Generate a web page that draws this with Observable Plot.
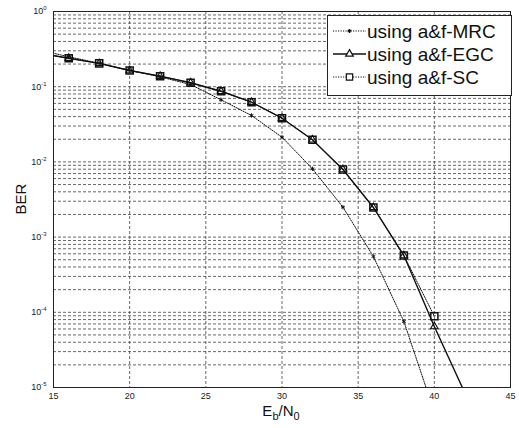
<!DOCTYPE html>
<html><head><meta charset="utf-8">
<script src="https://cdn.jsdelivr.net/npm/d3@7"></script>
<script src="https://cdn.jsdelivr.net/npm/@observablehq/plot@0.6"></script>
<style>body{margin:0;background:#fff} #chart{width:519px;height:428px}</style>
</head><body><div id="chart"></div>
<script>
const ebn0 = [14,16,18,20,22,24,26,28,30,32,34,36,38,40,42];
const berMRC = [0.31,0.25,0.205,0.165,0.135,0.107,0.0669,0.0414,0.0213,0.00809,0.0025,5.52e-4,7.55e-5,4.7e-6];
const berEGC = [0.28,0.239,0.204,0.164,0.138,0.113,0.087,0.0622,0.0381,0.0197,0.00792,0.00248,5.69e-4,6.46e-5,8.5e-6];
const berSC  = [0.28,0.239,0.204,0.164,0.138,0.113,0.087,0.0622,0.0381,0.0197,0.00792,0.00248,5.69e-4,8.87e-5];
const seriesNames = ["using a&f-MRC","using a&f-EGC","using a&f-SC"];
const xTicks = [15,20,25,30,35,40,45];
const xGrid = [20,25,30,35,40];
const yTicks = [1e-5,1e-4,1e-3,1e-2,1e-1,1];
const yMinorMult = [1,2,3,4,5,6,7,8,9];

const yGrid = [];
yTicks.slice(0,-1).forEach(d => yMinorMult.forEach(k => yGrid.push(k*d)));

const rows = (vals, s) => vals.map((v,i) => ({x: ebn0[i], y: v, s}));
const mrc = rows(berMRC, seriesNames[0]);
const egc = rows(berEGC, seriesNames[1]);
const sc  = rows(berSC,  seriesNames[2]);
const vis = r => r.x >= 15;

const ink = "#111";
const gridStyle = {stroke:"#444", strokeOpacity:0.9, strokeDasharray:"3,2", strokeWidth:0.9};

const svgEl = Plot.plot({
  width:519, height:428, marginLeft:53, marginRight:9, marginTop:11, marginBottom:41,
  style:{fontFamily:"'Liberation Sans', Arial, sans-serif", fontSize:"9px", background:"#fff", color:"#222"},
  x:{domain:[15,45]},
  y:{type:"log", domain:[1e-5,1]},
  marks:[
    Plot.gridY({ticks: yGrid, ...gridStyle}),
    Plot.gridX({ticks: xGrid, ...gridStyle}),
    Plot.line(mrc, {x:"x", y:"y", stroke:ink, strokeWidth:1, strokeDasharray:"1.2,1.3", clip:true}),
    Plot.line(egc, {x:"x", y:"y", stroke:ink, strokeWidth:1.4, clip:true}),
    Plot.line(sc,  {x:"x", y:"y", stroke:ink, strokeWidth:1, strokeDasharray:"1.2,1.3", clip:true}),
    Plot.dot(mrc.filter(vis), {x:"x", y:"y", symbol:"asterisk", r:2, stroke:ink, strokeWidth:1, clip:true}),
    Plot.dot(egc.filter(vis), {x:"x", y:"y", symbol:"triangle", r:2.8, stroke:ink, fill:"none", strokeWidth:1.1, clip:true}),
    Plot.dot(sc.filter(vis),  {x:"x", y:"y", symbol:"square", r:4, stroke:ink, fill:"none", strokeWidth:1.5, clip:true}),
    Plot.frame({stroke:"#222", strokeWidth:1}),
    Plot.axisX({ticks:xTicks, tickSize:0, tickPadding:5, label:null}),
    Plot.axisY({ticks:yTicks, tickSize:0, tickPadding:7, tickFormat: d => "10^" + Math.round(Math.log10(d)), label:null})
  ]
});
document.getElementById("chart").appendChild(svgEl);
const svg = d3.select(svgEl);

// superscript tick labels
svg.selectAll('g[aria-label="y-axis tick label"] text').each(function(){
  const t = this.textContent;
  const e = t.split("^")[1];
  const sel = d3.select(this);
  sel.text("10");
  sel.append("tspan").attr("dy","-0.65em").attr("font-size","6px").text(e);
});

const font = "'Liberation Sans', Arial, sans-serif";
// x label
const xl = svg.append("text").attr("x",281).attr("y",416).attr("text-anchor","middle")
  .attr("font-family",font).attr("font-size","15px").attr("fill","#111");
xl.append("tspan").text("E");
xl.append("tspan").attr("dy","4").attr("font-size","11px").text("b");
xl.append("tspan").attr("dy","-4").text("/N");
xl.append("tspan").attr("dy","4").attr("font-size","11px").text("0");

// y label
svg.append("text").attr("transform","translate(26,199) rotate(-90)").attr("text-anchor","middle")
  .attr("font-family",font).attr("font-size","15px").attr("fill","#111").text("BER");

// legend
const lg = svg.append("g").attr("text-anchor","start");
lg.append("rect").attr("x",327.5).attr("y",15.5).attr("width",184).attr("height",80)
  .attr("fill","#fff").attr("stroke","#222").attr("stroke-width",1);
const rowY = [31, 54, 77];
const styles = [
  {dash:"1.2,1.3", w:1, sym:d3.symbolAsterisk, size:12},
  {dash:null, w:1.4, sym:d3.symbolTriangle, size:25},
  {dash:"1.2,1.3", w:1, sym:d3.symbolSquare, size:40}
];
seriesNames.forEach((name,i) => {
  const y = rowY[i], st = styles[i];
  const ln = lg.append("line").attr("x1",333).attr("x2",366).attr("y1",y).attr("y2",y)
    .attr("stroke",ink).attr("stroke-width",st.w);
  if (st.dash) ln.attr("stroke-dasharray",st.dash);
  lg.append("path").attr("d", d3.symbol(st.sym, st.size)()).attr("transform",`translate(349.5,${y})`)
    .attr("fill","#fff").attr("stroke",ink).attr("stroke-width",1.2);
  lg.append("text").attr("x",367).attr("y",y).attr("dy","0.36em").attr("text-anchor","start")
    .attr("font-family",font).attr("font-size","19px").attr("fill","#111").text(name);
});
</script></body></html>
